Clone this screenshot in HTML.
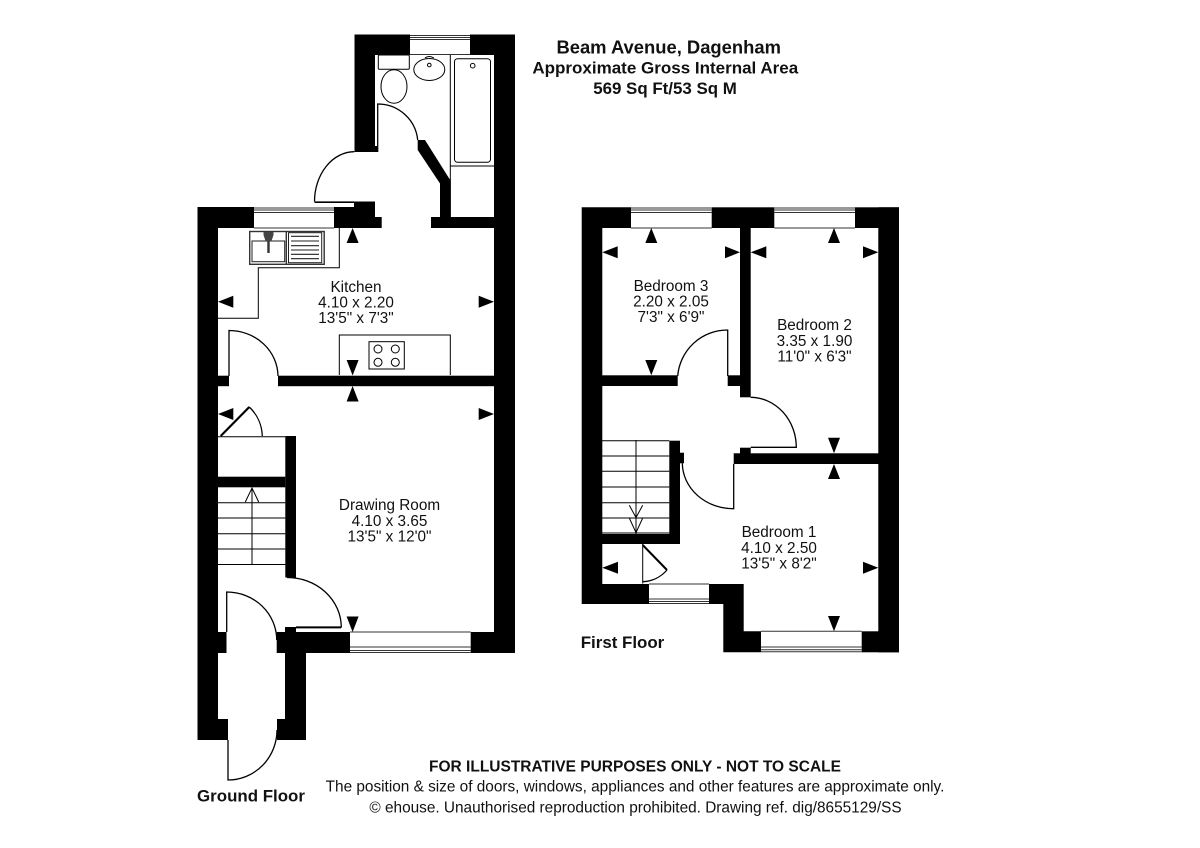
<!DOCTYPE html>
<html><head><meta charset="utf-8"><style>
html,body{margin:0;padding:0;background:#fff}
svg{display:block}
text{font-family:"Liberation Sans",Arial,sans-serif;fill:#111;text-anchor:middle}
.r{font-size:15.3px}
.b{font-weight:bold}
.l{fill:none;stroke:#000;stroke-width:1}
.d{fill:none;stroke:#000;stroke-width:1.3}
.g{fill:none;stroke:#333;stroke-width:1}
</style></head><body>
<svg width="1200" height="848" viewBox="0 0 1200 848" xmlns="http://www.w3.org/2000/svg">
<rect width="1200" height="848" fill="#fff"/>

<!-- GROUND FLOOR walls -->
<g fill="#000">
<rect x="354.5" y="34.5" width="20.5" height="117.5"/>
<rect x="375" y="146" width="2.5" height="6"/>
<rect x="354.5" y="34.5" width="55.5" height="20.5"/>
<rect x="470" y="34.5" width="45" height="20.5"/>
<rect x="494" y="34.5" width="21" height="618.5"/>
<rect x="197.5" y="207" width="20.5" height="533"/>
<rect x="197.5" y="207" width="56.5" height="21"/>
<rect x="334" y="207" width="41" height="21"/>
<rect x="354" y="201.5" width="21" height="16"/>
<rect x="375" y="217" width="6.7" height="11"/>
<rect x="431" y="217" width="63" height="11"/>
<rect x="440" y="179" width="10.7" height="38"/>
<polygon points="417.7,140 425,140 449.5,179 440,183.5 417.7,150"/>
<rect x="278" y="375.7" width="216" height="10.5"/>
<rect x="218" y="375.7" width="11" height="10.5"/>
<rect x="285.3" y="436" width="10.7" height="141.5"/>
<rect x="218" y="476.7" width="67.3" height="10.6"/>
<rect x="276.7" y="632" width="73.3" height="21"/>
<rect x="470.7" y="632" width="44.3" height="21"/>
<rect x="285" y="627" width="11" height="6"/>
<rect x="285" y="653" width="21" height="87"/>
<rect x="218" y="632" width="8.5" height="21"/>
<rect x="218" y="719" width="10" height="21"/>
<rect x="277" y="719" width="8" height="21"/>
</g>
<!-- windows ground -->
<g class="g">
<path class="g" d="M410 35.5H470M410 37.5H470M410 39.5H470M410 54.5H470"/>
<path class="g" d="M254 208H334M254 210H334M254 212.5H334M254 228H334"/>
<path class="g" d="M350 652.5H470.7M350 650.5H470.7M350 647H470.7M350 632H470.7"/>
</g>
<!-- fixtures bathroom -->
<rect class="l" x="378.3" y="55" width="31" height="14.3" rx="1"/>
<ellipse class="l" cx="394" cy="86.5" rx="13" ry="16.8"/>
<ellipse class="l" cx="429.3" cy="69.5" rx="15.5" ry="11"/>
<circle class="l" cx="429.3" cy="65" r="1.8"/>
<path class="l" d="M425 58Q429 55 434 58"/>
<path class="l" d="M450.3 55V217M450.3 166H494"/>
<rect class="l" x="454.5" y="58.7" width="36" height="103.6" rx="3"/>
<circle class="l" cx="472.7" cy="65.7" r="2.3"/>
<!-- kitchen fixtures -->
<path class="l" d="M339.3 228V267.7H258.3V318.3H218"/>
<rect x="249.7" y="231.5" width="74.5" height="32.8" fill="none" stroke="#333" stroke-width="1.4"/>
<path d="M286.3 231.5V264.3" stroke="#333" stroke-width="1.4" fill="none"/>
<rect x="252" y="241" width="32.7" height="20.7" fill="none" stroke="#222" stroke-width="1"/>
<rect x="288.5" y="232.7" width="33.2" height="30" fill="none" stroke="#222" stroke-width="1"/>
<path d="M291 236.3H319M291 241H319M291 245.7H319M291 250H319M291 254.3H319M291 258.7H319" stroke="#222" stroke-width="1.1" fill="none"/>
<path d="M268.5 238V253" stroke="#333" stroke-width="2.4" fill="none"/>
<path d="M263.5 232H273.5V235L271.5 241H265.5L263.5 235Z" fill="#444"/>
<path class="l" d="M339.3 375V335H450.3V375"/>
<rect class="l" x="369" y="341.7" width="35.3" height="27.3"/>
<circle class="l" cx="378" cy="349" r="4"/><circle class="l" cx="395.3" cy="349" r="4"/>
<circle class="l" cx="378" cy="362.3" r="4"/><circle class="l" cx="395.3" cy="362.3" r="4"/>
<!-- stairs ground -->
<path class="l" d="M218 436.7H285.3M218 502.7H285.3M218 518H285.3M218 533.7H285.3M218 549H285.3M218 564.5H285.3"/>
<path class="l" d="M252 564.5V488M245.3 502L252 488L258.7 502"/>
<!-- doors ground -->
<path class="d" d="M377.7 152V104A40 40 0 0 1 417.7 140"/>
<path class="d" d="M354.3 151.7A40 50 0 0 0 314.5 201.5"/>
<path d="M314.5 202.2H354" stroke="#000" stroke-width="1.6" fill="none"/>
<path class="d" d="M229 376V330.5A49 46 0 0 1 278 376"/>
<path d="M220.7 436L249.3 407" stroke="#000" stroke-width="2.2" fill="none"/>
<path class="d" d="M249.3 407A42 42 0 0 1 262.3 436"/>
<path class="d" d="M287 577.5A54 50 0 0 1 341.3 627H296"/>
<path d="M296 627.5H341" stroke="#000" stroke-width="1.8" fill="none"/>
<path class="d" d="M226.7 632V592A50 48 0 0 1 276.7 640"/>
<path class="d" d="M228 740V780A49 50 0 0 0 277 730"/>

<!-- FIRST FLOOR walls -->
<g fill="#000">
<polygon points="581.7,207.3 631,207.3 631,228 602.3,228 602.3,584 649,584 649,604 581.7,604"/>
<rect x="711.7" y="207.3" width="62.6" height="20.7"/>
<rect x="855" y="207.3" width="44" height="20.7"/>
<rect x="878.3" y="207.3" width="20.7" height="445"/>
<rect x="740" y="228" width="10.7" height="169.3"/>
<rect x="602" y="375.3" width="75.7" height="10.7"/>
<rect x="727.7" y="375.3" width="12.5" height="10.7"/>
<rect x="733.7" y="453.3" width="145" height="10.7"/>
<rect x="740" y="447.7" width="10.7" height="6"/>
<rect x="669.3" y="440.7" width="10.7" height="103.3"/>
<rect x="602" y="534" width="78" height="10"/>
<rect x="680" y="452.7" width="4" height="10.6"/>
<polygon points="709,584 743.7,584 743.7,631.3 761,631.3 761,652.3 723.3,652.3 723.3,604 709,604"/>
<rect x="861.7" y="631.3" width="37.3" height="21"/>
</g>
<path class="g" d="M631 208H711.7M631 210H711.7M631 212.5H711.7M631 228H711.7"/>
<path class="g" d="M774.3 208H855M774.3 210H855M774.3 212.5H855M774.3 228H855"/>
<path class="g" d="M649 603.5H709M649 601.5H709M649 599H709M649 584H709"/>
<path class="g" d="M761 651.8H861.7M761 649.8H861.7M761 647H861.7M761 631.3H861.7"/>
<!-- stairs first -->
<path class="l" d="M602 440.7H669.3M602 456H669.3M602 471.3H669.3M602 487H669.3M602 502.7H669.3M602 518H669.3M602 533H669.3"/>
<path class="l" d="M636 440V534M629.3 505.3L636 517.5L642.7 505.3M629.3 518L636 532.7L642.7 518"/>
<!-- doors first -->
<path class="d" d="M727.7 376V330A50 50 0 0 0 677.7 376"/>
<path class="d" d="M750.7 397.3A46 50 0 0 1 796.3 447.3H750.7"/>
<path class="d" d="M682.3 463.3A51 46 0 0 0 733.7 508.7V464"/>
<path class="l" d="M642.7 544V583.5"/>
<path d="M642.7 545L667 570" stroke="#000" stroke-width="2" fill="none"/>
<path class="d" d="M667 570A34 34 0 0 1 642.7 581.7"/>

<!-- ARROWS -->
<g fill="#000">
<!-- kitchen -->
<polygon points="352.6,228 346.6,243 358.6,243"/>
<polygon points="352.6,375.5 346.6,360 358.6,360"/>
<polygon points="218,301.7 233.3,295.7 233.3,307.7"/>
<polygon points="494,301.7 478.7,295.7 478.7,307.7"/>
<!-- drawing room -->
<polygon points="352.6,386 346.6,401.5 358.6,401.5"/>
<polygon points="352.6,632 346.6,616.5 358.6,616.5"/>
<polygon points="218,414 233.3,408 233.3,420"/>
<polygon points="494,414 478.7,408 478.7,420"/>
<!-- bedroom 3 -->
<polygon points="651.3,228 645.3,243 657.3,243"/>
<polygon points="651.3,375.3 645.3,360 657.3,360"/>
<polygon points="602.3,252.3 617.7,246.3 617.7,258.3"/>
<polygon points="740,252.3 725,246.3 725,258.3"/>
<!-- bedroom 2 -->
<polygon points="834,228 828,243 840,243"/>
<polygon points="834,453.3 828,437.7 840,437.7"/>
<polygon points="750.7,252.3 766.3,246.3 766.3,258.3"/>
<polygon points="878.3,252.3 863,246.3 863,258.3"/>
<!-- bedroom 1 -->
<polygon points="834,464 828,479 840,479"/>
<polygon points="834,631.3 828,616 840,616"/>
<polygon points="602.3,567.7 618,561.7 618,573.7"/>
<polygon points="878.3,567.7 863,561.7 863,573.7"/>
</g>

<!-- TEXT -->
<text x="668.7" y="53.3" class="b" style="font-size:18.4px">Beam Avenue, Dagenham</text>
<text x="665.3" y="73.3" class="b" style="font-size:17px">Approximate Gross Internal Area</text>
<text x="665" y="94" class="b" style="font-size:16.9px">569 Sq Ft/53 Sq M</text>
<g>
<text class="r" x="356" y="292">Kitchen</text>
<text class="r" x="356" y="307.5">4.10 x 2.20</text>
<text class="r" x="356" y="323">13'5" x 7'3"</text>
<text class="r" x="389.5" y="510">Drawing Room</text>
<text class="r" x="389.5" y="526">4.10 x 3.65</text>
<text class="r" x="389.5" y="541.5">13'5" x 12'0"</text>
<text class="r" x="671" y="291">Bedroom 3</text>
<text class="r" x="671" y="306.5">2.20 x 2.05</text>
<text class="r" x="671" y="322">7'3" x 6'9"</text>
<text class="r" x="814.5" y="330">Bedroom 2</text>
<text class="r" x="814.5" y="346">3.35 x 1.90</text>
<text class="r" x="814.5" y="361.5">11'0" x 6'3"</text>
<text class="r" x="779" y="537">Bedroom 1</text>
<text class="r" x="779" y="553">4.10 x 2.50</text>
<text class="r" x="779" y="568.5">13'5" x 8'2"</text>
</g>
<text class="b" x="622.5" y="648" style="font-size:16.9px">First Floor</text>
<text class="b" x="251" y="801.7" style="font-size:16.9px">Ground Floor</text>
<text class="b" x="635" y="771.7" style="font-size:15.5px">FOR ILLUSTRATIVE PURPOSES ONLY - NOT TO SCALE</text>
<text x="635" y="791.7" style="font-size:15.37px">The position &amp; size of doors, windows, appliances and other features are approximate only.</text>
<text x="635.5" y="812.7" style="font-size:15.37px">© ehouse. Unauthorised reproduction prohibited. Drawing ref. dig/8655129/SS</text>
</svg>
</body></html>
